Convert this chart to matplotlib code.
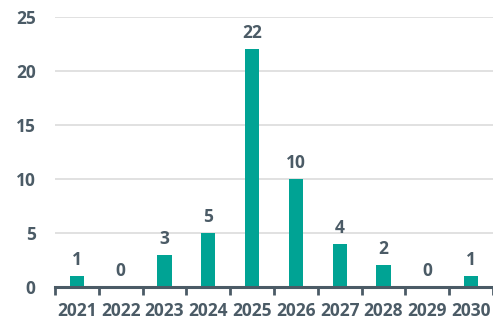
import matplotlib
matplotlib.use("Agg")
import matplotlib.pyplot as plt
import numpy as np

years = ["2021", "2022", "2023", "2024", "2025", "2026", "2027", "2028", "2029", "2030"]
counts = [1, 0, 3, 5, 22, 10, 4, 2, 0, 1]
y_ticks = [0, 5, 10, 15, 20, 25]

bar_color = "#00A394"
text_color = "#4B5B66"
grid_color = "#DCDCDC"
fs = 12.5

plt.rcParams["font.family"] = ["Open Sans", "DejaVu Sans"]
plt.rcParams["font.weight"] = "bold"

fig = plt.figure(figsize=(4.93, 3.22), dpi=100)
ax = fig.add_axes([55 / 493, 35 / 322, 438 / 493, 270 / 322])

x = np.arange(len(years))
ax.bar(x, counts, width=0.32, color=bar_color, zorder=3)

for xi, v in zip(x, counts):
    ax.annotate(str(v), (xi, v), xytext=(0, 5), textcoords="offset points",
                ha="center", va="bottom", fontsize=fs, fontweight="bold",
                color=text_color)

ax.set_xlim(-0.5, len(years) - 0.5)
ax.set_ylim(0, 25)

# gridlines
ax.set_yticks(y_ticks)
ax.set_yticklabels([str(t) for t in y_ticks])
ax.yaxis.grid(True, color=grid_color, linewidth=1.2, zorder=0)
ax.tick_params(axis="y", length=0, pad=14, labelsize=fs, labelcolor=text_color)

# category boundaries as tick marks, year labels as unmarked minor ticks
ax.set_xticks(np.arange(-0.5, len(years), 1.0))
ax.set_xticklabels([])
ax.set_xticks(x, minor=True)
ax.set_xticklabels(years, minor=True)
ax.tick_params(axis="x", which="major", length=6, width=2, color=text_color, direction="out")
ax.tick_params(axis="x", which="minor", length=0, pad=11, labelsize=fs, labelcolor=text_color)

for s in ["left", "right", "top"]:
    ax.spines[s].set_visible(False)
ax.spines["bottom"].set_color(text_color)
ax.spines["bottom"].set_linewidth(2.2)
ax.spines["bottom"].set_zorder(4)

for lbl in ax.get_xticklabels(minor=True) + ax.get_yticklabels():
    lbl.set_fontweight("bold")

fig.savefig("out.png", dpi=100)
